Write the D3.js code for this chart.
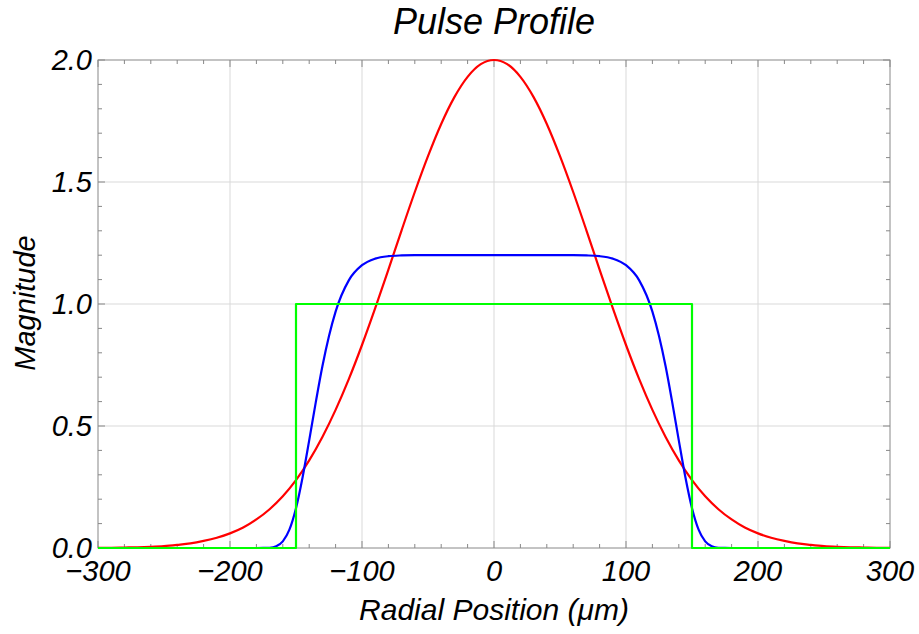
<!DOCTYPE html>
<html>
<head>
<meta charset="utf-8">
<script src="https://cdn.jsdelivr.net/npm/d3@7"></script>
<style>
  html, body { margin: 0; padding: 0; background: #fff; }
  text { font-family: 'Liberation Sans', Arial, sans-serif; font-style: italic; fill: #000; }
</style>
</head>
<body>
<svg id="chart" width="919" height="634"></svg>
<script>
// x positions (µm) and magnitudes
const redX = [-300, -290, -280, -270, -260, -250, -240, -230, -220, -210, -200, -190, -180, -170, -160, -150, -140, -130, -120, -110, -100, -90, -80, -70, -60, -50, -40, -30, -20, -10, 0,
  10, 20, 30, 40, 50, 60, 70, 80, 90, 100, 110, 120, 130, 140, 150, 160, 170, 180, 190, 200, 210, 220, 230, 240, 250, 260, 270, 280, 290, 300]
const redY = [0.0005, 0.001, 0.002, 0.003, 0.005, 0.008, 0.013, 0.019, 0.029, 0.042, 0.060, 0.084, 0.117, 0.159, 0.212, 0.278, 0.359, 0.455, 0.566, 0.692, 0.832, 0.983, 1.141, 1.302, 1.459, 1.606, 1.738, 1.848, 1.931, 1.983, 2.0,
  1.983, 1.931, 1.848, 1.738, 1.606, 1.459, 1.302, 1.141, 0.983, 0.832, 0.692, 0.566, 0.455, 0.359, 0.278, 0.212, 0.159, 0.117, 0.084, 0.060, 0.042, 0.029, 0.019, 0.013, 0.008, 0.005, 0.003, 0.002, 0.001, 0.0005]

const blueX = [-300, -180, -175, -170, -165, -160, -155, -150, -145, -140, -135, -130, -125, -120, -110, -100, -90, -80, -70, -60, 0,
  60, 70, 80, 90, 100, 110, 120, 125, 130, 135, 140, 145, 150, 155, 160, 165, 170, 175, 180, 300]
const blueY = [0, 0, 0.0002, 0.001, 0.007, 0.027, 0.075, 0.163, 0.290, 0.441, 0.598, 0.745, 0.869, 0.969, 1.097, 1.159, 1.186, 1.196, 1.199, 1.2, 1.2,
  1.2, 1.199, 1.196, 1.186, 1.159, 1.097, 0.969, 0.869, 0.745, 0.598, 0.441, 0.290, 0.163, 0.075, 0.027, 0.007, 0.001, 0.0002, 0, 0]

const greenX = [-300, -150, -150, 150, 150, 300]
const greenY = [0, 0, 1, 1, 0, 0]

const xTicks = [-300, -200, -100, 0, 100, 200, 300]
const yTicks = [0, 0.5, 1.0, 1.5, 2.0]

const svg = d3.select('#chart')
const margin = { top: 60, right: 29, bottom: 86, left: 98 }
const width = 919 - margin.left - margin.right
const height = 634 - margin.top - margin.bottom

const x = d3.scaleLinear().domain([-300, 300]).range([0, width])
const y = d3.scaleLinear().domain([0, 2]).range([height, 0])

const g = svg.append('g').attr('transform', `translate(${margin.left},${margin.top})`)

// grid
g.selectAll('.gx').data(xTicks.slice(1, -1)).enter().append('line')
  .attr('x1', d => x(d)).attr('x2', d => x(d)).attr('y1', 0).attr('y2', height)
  .attr('stroke', '#d9d9d9').attr('stroke-width', 1)
g.selectAll('.gy').data(yTicks.slice(1, -1)).enter().append('line')
  .attr('y1', d => y(d)).attr('y2', d => y(d)).attr('x1', 0).attr('x2', width)
  .attr('stroke', '#d9d9d9').attr('stroke-width', 1)

// frame with inward ticks on every side
const frameColor = '#888'
const xMinor = d3.range(-300, 301, 20)
const yMinor = d3.range(0, 2.001, 0.1)

function axisTicks (vals, isX, major) {
  vals.forEach(v => {
    const len = major ? 7 : 4
    if (isX) {
      g.append('line').attr('x1', x(v)).attr('x2', x(v)).attr('y1', height).attr('y2', height - len)
        .attr('stroke', frameColor)
      g.append('line').attr('x1', x(v)).attr('x2', x(v)).attr('y1', 0).attr('y2', len)
        .attr('stroke', frameColor)
    } else {
      g.append('line').attr('y1', y(v)).attr('y2', y(v)).attr('x1', 0).attr('x2', len)
        .attr('stroke', frameColor)
      g.append('line').attr('y1', y(v)).attr('y2', y(v)).attr('x1', width).attr('x2', width - len)
        .attr('stroke', frameColor)
    }
  })
}
axisTicks(xMinor.filter(v => v % 100 !== 0), true, false)
axisTicks(xTicks, true, true)
axisTicks(yMinor.filter(v => Math.abs(v * 2 - Math.round(v * 2)) > 1e-6), false, false)
axisTicks(yTicks, false, true)

g.append('rect').attr('x', 0).attr('y', 0).attr('width', width).attr('height', height)
  .attr('fill', 'none').attr('stroke', frameColor).attr('stroke-width', 1)

// tick labels
const fmtX = d3.format('d')
g.selectAll('.xl').data(xTicks).enter().append('text')
  .attr('x', d => x(d)).attr('y', height + 33)
  .attr('text-anchor', 'middle').style('font-size', '29px')
  .text(d => fmtX(d))
g.selectAll('.yl').data(yTicks).enter().append('text')
  .attr('x', -6).attr('y', d => y(d)).attr('dy', '0.35em')
  .attr('text-anchor', 'end').style('font-size', '29px')
  .text(d => d3.format('.1f')(d))

// curves
const line = d3.line().x(d => x(d[0])).y(d => y(d[1]))
const series = [
  { xs: redX, ys: redY, color: '#ff0000', curve: d3.curveMonotoneX },
  { xs: blueX, ys: blueY, color: '#0000ff', curve: d3.curveMonotoneX },
  { xs: greenX, ys: greenY, color: '#00ff00', curve: d3.curveLinear }
]
series.forEach(s => {
  g.append('path')
    .datum(s.xs.map((v, i) => [v, s.ys[i]]))
    .attr('d', line.curve(s.curve))
    .attr('fill', 'none').attr('stroke', s.color).attr('stroke-width', 2.2)
    .attr('stroke-linejoin', 'round')
})

// titles
svg.append('text').attr('x', margin.left + width / 2).attr('y', 34)
  .attr('text-anchor', 'middle').style('font-size', '36px').text('Pulse Profile')
svg.append('text').attr('x', margin.left + width / 2).attr('y', 620)
  .attr('text-anchor', 'middle').style('font-size', '30px').text('Radial Position (μm)')
svg.append('text').attr('transform', 'translate(35,303) rotate(-90)')
  .attr('text-anchor', 'middle').style('font-size', '29px').text('Magnitude')
</script>
</body>
</html>
